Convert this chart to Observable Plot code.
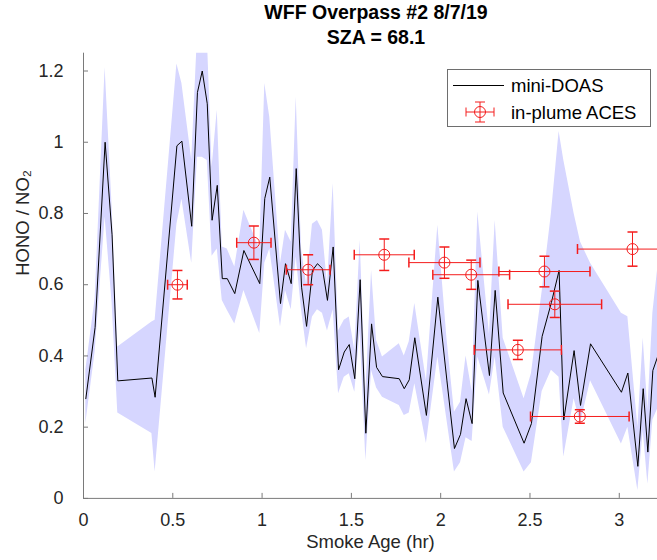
<!DOCTYPE html>
<html><head><meta charset="utf-8">
<script src="https://cdn.jsdelivr.net/npm/d3@7"></script>
<script src="https://cdn.jsdelivr.net/npm/@observablehq/plot@0.6"></script>
<style>
html,body{margin:0;padding:0;background:#fff;}
body{width:657px;height:560px;overflow:hidden;position:relative;font-family:"Liberation Sans",Arial,Helvetica,sans-serif;}
#title{position:absolute;left:0;top:0;width:752px;text-align:center;font-weight:bold;font-size:19.5px;line-height:25px;color:#000;}
#chart{position:absolute;left:0;top:46px;}
#legend{position:absolute;left:447px;top:69px;width:202px;height:56px;border:1px solid #6e6e6e;background:#fff;}
#legend svg{position:absolute;left:0;top:0;}
</style></head>
<body>
<div id="title">WFF Overpass #2 8/7/19<br>SZA = 68.1</div>
<div id="chart"></div>
<div id="legend"></div>
<script>
// mini-DOAS HONO/NO2 ratio vs smoke age, with uncertainty band
const doasX  = [0.013,0.065,0.121,0.160,0.192,0.383,0.401,0.523,0.551,0.606,0.638,0.665,0.693,0.720,0.749,0.777,0.805,0.847,0.898,0.987,1.015,1.043,1.103,1.131,1.163,1.191,1.221,1.249,1.282,1.310,1.338,1.366,1.398,1.428,1.460,1.488,1.519,1.549,1.581,1.613,1.641,1.674,1.768,1.796,1.824,1.855,1.920,1.984,2.035,2.077,2.111,2.142,2.176,2.208,2.273,2.305,2.350,2.467,2.508,2.568,2.620,2.663,2.689,2.747,2.783,2.839,3.012,3.048,3.104,3.134,3.160,3.188,3.214];
const doasY  = [0.28,0.48,1.00,0.74,0.33,0.338,0.284,0.99,1.003,0.764,1.14,1.20,1.108,0.781,0.879,0.617,0.617,0.575,0.696,0.603,0.842,0.902,0.547,0.659,0.603,0.926,0.593,0.483,0.64,0.659,0.645,0.556,0.706,0.361,0.411,0.432,0.336,0.614,0.183,0.49,0.368,0.342,0.336,0.308,0.333,0.451,0.233,0.565,0.33,0.14,0.18,0.28,0.21,0.612,0.345,0.584,0.296,0.155,0.21,0.455,0.55,0.64,0.22,0.415,0.261,0.434,0.298,0.352,0.09,0.308,0.13,0.359,0.397];
const doasLo = [0.21,0.41,0.79,0.55,0.24,0.182,0.074,0.77,0.84,0.66,0.958,0.958,0.949,0.68,0.70,0.556,0.528,0.49,0.584,0.463,0.66,0.70,0.481,0.584,0.53,0.678,0.528,0.42,0.509,0.53,0.52,0.47,0.53,0.294,0.34,0.35,0.298,0.47,0.106,0.359,0.31,0.284,0.261,0.233,0.24,0.322,0.154,0.397,0.22,0.074,0.10,0.17,0.16,0.397,0.29,0.397,0.20,0.074,0.10,0.30,0.36,0.34,0.116,0.28,0.21,0.33,0.153,0.20,0.022,0.19,0.04,0.22,0.25];
const doasHi = [0.36,0.56,1.21,0.82,0.425,0.495,0.50,1.22,1.165,0.95,1.30,1.30,1.30,0.93,1.09,0.706,0.70,0.65,0.809,0.70,1.165,1.07,0.659,0.753,0.72,1.127,0.70,0.60,0.77,0.78,0.753,0.60,0.884,0.47,0.50,0.509,0.415,0.725,0.30,0.64,0.443,0.397,0.434,0.40,0.44,0.547,0.33,0.767,0.45,0.242,0.27,0.40,0.30,0.804,0.46,0.78,0.45,0.28,0.35,0.58,0.80,1.03,0.95,0.80,0.72,0.66,0.52,0.51,0.20,0.45,0.25,0.52,0.64];

// in-plume ACES points with x / y error bars
const acesX    = [0.526,0.954,1.258,1.684,2.021,2.171,2.581,2.639,2.432,2.779,3.074];
const acesY    = [0.600,0.718,0.642,0.684,0.662,0.628,0.637,0.545,0.417,0.230,0.700];
const acesXErr = [0.055,0.096,0.122,0.168,0.199,0.215,0.255,0.262,0.244,0.276,0.308];
const acesYErr = [0.040,0.047,0.042,0.044,0.044,0.041,0.043,0.037,0.027,0.019,0.048];

const xTicks = [0,0.5,1,1.5,2,2.5,3];
const xTickLabels = ["0","0.5","1","1.5","2","2.5","3"];
const yTicks = [0,0.2,0.4,0.6,0.8,1,1.2];
const yTickLabels = ["0","0.2","0.4","0.6","0.8","1","1.2"];
const xLabel = "Smoke Age (hr)";
const yLabel = "HONO / NO\u2082";
const seriesNames = ["mini-DOAS","in-plume ACES"];

const doas = doasX.map((x,i)=>({x, y:doasY[i], lo:doasLo[i], hi:doasHi[i]}));
const aces = acesX.map((x,i)=>({x, y:acesY[i], xe:acesXErr[i], ye:acesYErr[i]}));

const RED = "#f41c1c";
const AX = "#7a7a7a";
const W = 657, H = 514, mT = 6.7, mR = 0, mB = 62.1, mL = 83;
const fw = W - mL - mR, fh = H - mT - mB;

const hCap = {draw(ctx, size){const r=Math.sqrt(size/Math.PI); ctx.moveTo(-r,0); ctx.lineTo(r,0);}};
const vCap = {draw(ctx, size){const r=Math.sqrt(size/Math.PI); ctx.moveTo(0,-r); ctx.lineTo(0,r);}};

const chart = Plot.plot({
  width: W, height: H,
  marginTop: mT, marginRight: mR, marginBottom: mB, marginLeft: mL,
  style: {fontFamily: "'Liberation Sans', Arial, sans-serif", fontSize: "18px", color: "#262626", background: "#fff"},
  x: {domain: [0, 3.214]},
  y: {domain: [0, 1.25]},
  marks: [
    Plot.areaY(doas, {x: "x", y1: "lo", y2: "hi", fill: "#d6d6ff", clip: true}),
    Plot.line(doas, {x: "x", y: "y", stroke: "#000", strokeWidth: 1, clip: true}),
    Plot.link(aces, {x1: d => d.x - d.xe, x2: d => d.x + d.xe, y1: "y", y2: "y", stroke: RED, strokeWidth: 1, clip: true}),
    Plot.link(aces, {x1: "x", x2: "x", y1: d => d.y - d.ye, y2: d => d.y + d.ye, stroke: RED, strokeWidth: 1, clip: true}),
    Plot.dot(aces, {x: d => d.x - d.xe, y: "y", symbol: vCap, r: 5, stroke: RED, fill: "none", clip: true}),
    Plot.dot(aces, {x: d => d.x + d.xe, y: "y", symbol: vCap, r: 5, stroke: RED, fill: "none", clip: true}),
    Plot.dot(aces, {x: "x", y: d => d.y - d.ye, symbol: hCap, r: 5, stroke: RED, fill: "none", clip: true}),
    Plot.dot(aces, {x: "x", y: d => d.y + d.ye, symbol: hCap, r: 5, stroke: RED, fill: "none", clip: true}),
    Plot.dot(aces, {x: "x", y: "y", r: 5.5, stroke: RED, fill: "none", strokeWidth: 1}),
    Plot.ruleX([0], {stroke: AX}),
    Plot.ruleY([0], {stroke: AX}),
    Plot.tickY(yTicks, {y: d => d, stroke: AX, insetRight: fw - 5}),
    Plot.tickX(xTicks, {x: d => d, stroke: AX, insetTop: fh - 5}),
    Plot.axisX({ticks: xTicks, tickSize: 0, tickPadding: 15, tickFormat: (d) => xTickLabels[xTicks.indexOf(d)], label: null, fill: "#262626"}),
    Plot.axisY({ticks: yTicks, tickSize: 0, tickPadding: 20, tickFormat: (d) => yTickLabels[yTicks.indexOf(d)], label: null, fill: "#262626"}),
    Plot.text([xLabel], {text: d => d, frameAnchor: "bottom", dy: 50, fill: "#262626", fontSize: 18.5}),
    Plot.text([yLabel], {text: d => d, frameAnchor: "left", dx: -60, rotate: -90, fill: "#262626", fontSize: 18.5})
  ]
});
document.getElementById("chart").appendChild(chart);

// legend
const lg = d3.select("#legend").append("svg").attr("width", 202).attr("height", 56)
  .style("font-family", "'Liberation Sans', Arial, sans-serif").style("font-size", "18.5px");
lg.append("line").attr("x1", 5).attr("x2", 56).attr("y1", 15.5).attr("y2", 15.5).attr("stroke", "#000").attr("stroke-width", 1);
lg.append("text").attr("x", 63).attr("y", 16).attr("dy", "0.35em").text(seriesNames[0]);
const mx = 32, my = 42;
const g = lg.append("g").attr("stroke", RED).attr("fill", "none");
g.append("line").attr("x1", mx - 14).attr("x2", mx + 14).attr("y1", my).attr("y2", my);
g.append("line").attr("x1", mx - 14).attr("x2", mx - 14).attr("y1", my - 4.5).attr("y2", my + 4.5);
g.append("line").attr("x1", mx + 14).attr("x2", mx + 14).attr("y1", my - 4.5).attr("y2", my + 4.5);
g.append("line").attr("x1", mx).attr("x2", mx).attr("y1", my - 10).attr("y2", my + 10);
g.append("line").attr("x1", mx - 5).attr("x2", mx + 5).attr("y1", my - 10).attr("y2", my - 10);
g.append("line").attr("x1", mx - 5).attr("x2", mx + 5).attr("y1", my + 10).attr("y2", my + 10);
g.append("circle").attr("cx", mx).attr("cy", my).attr("r", 5.5);
lg.append("text").attr("x", 63).attr("y", 42.5).attr("dy", "0.35em").text(seriesNames[1]);
</script>
</body></html>
